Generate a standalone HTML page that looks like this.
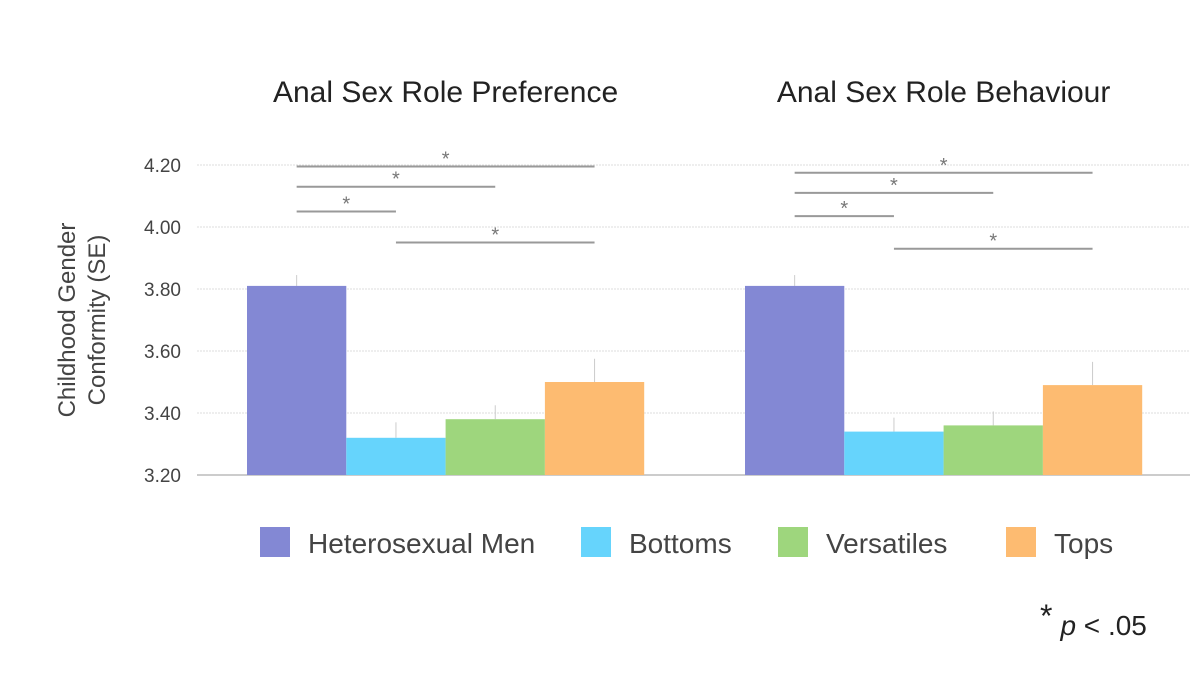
<!DOCTYPE html>
<html><head><meta charset="utf-8"><style>
body{margin:0;background:#fff}
svg{display:block;font-family:"Liberation Sans",sans-serif}
</style></head><body>
<svg id="c" width="1200" height="675">
<g id="g"></g>
</svg>
<script>
const groups=["Anal Sex Role Preference","Anal Sex Role Behaviour"];
const series=["Heterosexual Men","Bottoms","Versatiles","Tops"];
const colors=["#8388d4","#66d4fc","#9ed67d","#fdbb71"];
const means=[[3.81,3.32,3.38,3.50],[3.81,3.34,3.36,3.49]];
const errs=[[0.035,0.05,0.045,0.075],[0.035,0.045,0.045,0.075]];
const ticks=[3.20,3.40,3.60,3.80,4.00,4.20];
// significance brackets: [group, from series, to series, value level]
const sigs=[[0,0,3,4.195],[0,0,2,4.13],[0,0,1,4.05],[0,1,3,3.95],[1,0,3,4.175],[1,0,2,4.11],[1,0,1,4.035],[1,1,3,3.93]];
const NS="http://www.w3.org/2000/svg";
const g=document.getElementById('g');
const y=v=>475-(v-3.2)*310;
const gx=[247,745], bw=99.3;
const x=(gi,si)=>gx[gi]+si*bw;
function el(t,a,txt){const e=document.createElementNS(NS,t);for(const k in a)e.setAttribute(k,a[k]);if(txt!=null)e.textContent=txt;g.appendChild(e);return e;}
ticks.forEach(t=>{
 const l=el('line',{x1:197,x2:1190,y1:y(t),y2:y(t),stroke:t===3.2?'#999':'#ddd','stroke-width':1,'stroke-dasharray':t===3.2?'':'2,1'});
 
 
 const tx=el('text',{x:181,y:y(t)+7,'text-anchor':'end','font-size':19,fill:'#444'},t.toFixed(2));
 
 
});
const yt=el('text',{transform:'translate(75,320) rotate(-90)','text-anchor':'middle','font-size':24,fill:'#444'},'Childhood Gender');


const yt2=el('text',{transform:'translate(105,320) rotate(-90)','text-anchor':'middle','font-size':24,fill:'#444'},'Conformity (SE)');


groups.forEach((gn,gi)=>{
 const t=el('text',{x:gx[gi]+bw*2,y:102,'text-anchor':'middle','font-size':30,fill:'#222'},gn);
 
 
 series.forEach((s,si)=>{
  const v=means[gi][si],cx=x(gi,si)+bw/2;
  const e=el('line',{x1:cx,x2:cx,y1:y(v+errs[gi][si]),y2:y(v),stroke:'#ccc','stroke-width':1});
  
  
  const r=el('rect',{x:x(gi,si),y:y(v),width:bw,height:475-y(v),fill:colors[si]});
  
  
 });
});
sigs.forEach(([gi,a,b,v])=>{
 const x1=x(gi,a)+bw/2,x2=x(gi,b)+bw/2;
 const l=el('line',{x1:x1,x2:x2,y1:y(v),y2:y(v),stroke:'#999','stroke-width':2});
 
 
 const s=el('text',{x:(x1+x2)/2,y:y(v)-1,'text-anchor':'middle','font-size':20,fill:'#777'},'*');
 
 
});
const lx=[260,581,778,1006];
series.forEach((s,si)=>{
 const r=el('rect',{x:lx[si],y:527,width:30,height:30,fill:colors[si]});
 
 
 const t=el('text',{x:lx[si]+48,y:553,'font-size':28,fill:'#444'},s);
 
 
});
const n=el('text',{x:1040,y:635,'font-size':28,fill:'#222'},'');


n.innerHTML='<tspan font-size="32" dy="-8">*</tspan><tspan dx="8" dy="8" font-style="italic">p</tspan><tspan> &lt; .05</tspan>';
</script>
</body></html>
